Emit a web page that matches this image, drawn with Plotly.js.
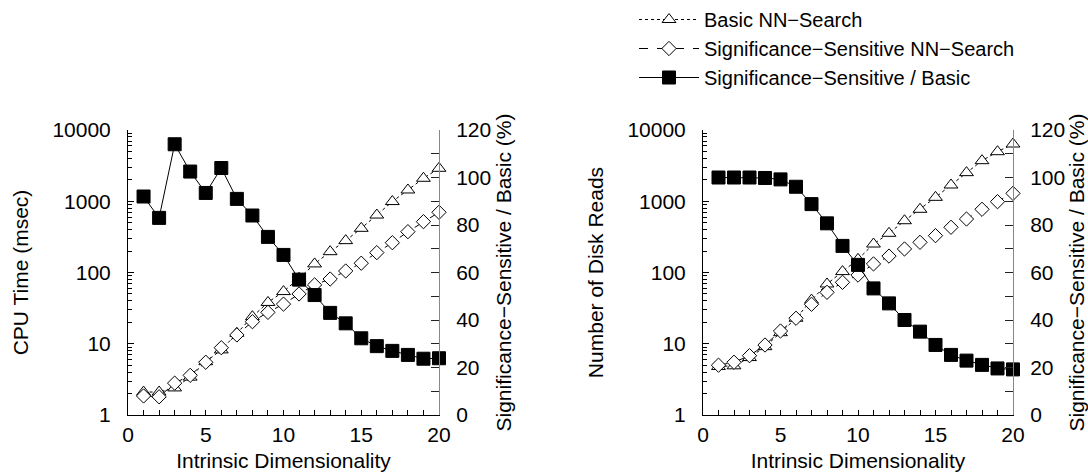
<!DOCTYPE html>
<html>
<head>
<meta charset="utf-8">
<script src="https://cdn.plot.ly/plotly-3.0.1.min.js"></script>
<style>html,body{margin:0;padding:0;background:#fff;}#chart{width:1088px;height:475px;}</style>
</head>
<body>
<div id="chart"></div>
<script>
// ---- data ----
const dims = [1,2,3,4,5,6,7,8,9,10,11,12,13,14,15,16,17,18,19,20];

// Left panel: CPU time (msec)
const cpuBasic = [2.1,2.1,2.4,3.4,5.6,8.2,14,24,38,54,83,132,196,280,417,640,990,1440,2100,2900];
const cpuSig   = [1.85,1.8,2.8,3.6,5.5,8.8,13.3,20.4,27.6,36,50,67,81,105,135,190,262,374,517,700];
const cpuRatio = [92,83,114,102.5,93.5,104,91,84,75,67.4,57,50.5,43,38.6,32.3,29,27,25.3,23.7,23.9];

// Right panel: number of disk reads
const diskBasic = [4.8,4.9,6.4,9.1,14.3,22.8,41,69,103,153,251,355,533,771,1135,1690,2520,3710,4960,6360];
const diskSig   = [5.0,5.5,6.8,9.6,15.1,22.8,35.8,52.7,72.8,92,132,170,214,265,329,431,563,771,986,1290];
const diskRatio = [100,100,100,99.8,99.2,96.1,88.8,80.7,71.2,63.2,53.3,47,40,35.1,29.5,25.3,22.9,21.1,19.6,19.2];

const names = ['Basic NN\u2212Search', 'Significance\u2212Sensitive NN\u2212Search', 'Significance\u2212Sensitive / Basic'];
const xTitle = 'Intrinsic Dimensionality';
const leftTitles = ['CPU Time (msec)', 'Number of Disk Reads'];
const ratioTitle = 'Significance\u2212Sensitive / Basic (%)';
const logTicks = [1,10,100,1000,10000];
const logTickText = ['1','10','100','1000','10000'];

// ---- styling ----
const FAM = '"Liberation Sans", Arial, Helvetica, sans-serif';
const TICKFONT = {family: FAM, size: 21, color: '#000'};
const TITLEFONT = {family: FAM, size: 21, color: '#000'};
const LEGFONT = {family: FAM, size: 20, color: '#000'};

function triTrace(x, y, xa, ya, show) {
  return {x, y, xaxis: xa, yaxis: ya, name: names[0], showlegend: show, mode: 'lines+markers', cliponaxis: false,
    line: {color: '#000', width: 1, dash: 'dot'},
    marker: {symbol: 'triangle-up', size: 12, color: '#fff', line: {color: '#000', width: 1}}};
}
function diaTrace(x, y, xa, ya, show) {
  return {x, y, xaxis: xa, yaxis: ya, name: names[1], showlegend: show, mode: 'lines+markers', cliponaxis: false,
    line: {color: '#000', width: 1, dash: 'dash'},
    marker: {symbol: 'diamond', size: 11, color: '#fff', line: {color: '#000', width: 1}}};
}
function sqTrace(x, y, xa, ya, show) {
  return {x, y, xaxis: xa, yaxis: ya, name: names[2], showlegend: show, mode: 'lines+markers', cliponaxis: false,
    line: {color: '#000', width: 1},
    marker: {symbol: 'square', size: 13, color: '#000', line: {color: '#000', width: 1}}};
}

const data = [
  triTrace(dims, cpuBasic, 'x', 'y', true),
  diaTrace(dims, cpuSig, 'x', 'y', true),
  sqTrace(dims, cpuRatio, 'x', 'y2', true),
  triTrace(dims, diskBasic, 'x2', 'y3', false),
  diaTrace(dims, diskSig, 'x2', 'y3', false),
  sqTrace(dims, diskRatio, 'x2', 'y4', false)
];

const yDom = [1 - 415/475, 1 - 130/475];

function xAxis(domain, anchor) {
  return {domain, anchor, range: [0, 20], dtick: 5, tick0: 0, showline: true, linecolor: '#000', linewidth: 1,
    ticks: 'inside', ticklen: 5, tickcolor: '#000', showgrid: false, zeroline: false, automargin: false,
    minor: {dtick: 1, ticks: 'inside', ticklen: 5, tickcolor: '#000', showgrid: false},
    tickfont: TICKFONT, ticklabelstandoff: 1,
    title: {text: xTitle, font: TITLEFONT, standoff: 8}};
}
function logAxis(anchor, title) {
  return {domain: yDom, anchor, type: 'log', range: [0, 4], tickvals: logTicks, ticktext: logTickText,
    showline: true, linecolor: '#000', linewidth: 1, ticks: 'inside', ticklen: 6, tickcolor: '#000',
    showgrid: false, zeroline: false, automargin: false,
    minor: {dtick: 'D1', ticks: 'inside', ticklen: 4, tickcolor: '#000', showgrid: false},
    tickfont: TICKFONT, ticklabelstandoff: 12,
    title: {text: title, font: TITLEFONT, standoff: 18}};
}
function pctAxis(anchor, overlay) {
  return {domain: yDom, anchor, overlaying: overlay, side: 'right', range: [0, 120], dtick: 20, tick0: 0,
    showline: true, linecolor: '#888', linewidth: 1, ticks: 'inside', ticklen: 8, tickcolor: '#222',
    showgrid: false, zeroline: false, automargin: false,
    minor: {dtick: 10, ticks: 'inside', ticklen: 8, tickcolor: '#222', showgrid: false},
    tickfont: TICKFONT, ticklabelstandoff: 12,
    title: {text: ratioTitle, font: TITLEFONT, standoff: 6}};
}

const layout = {
  width: 1088, height: 475,
  margin: {l: 0, r: 0, t: 0, b: 0},
  paper_bgcolor: '#fff', plot_bgcolor: '#fff',
  font: TICKFONT,
  showlegend: true,
  legend: {x: 634/1088, xanchor: 'left', y: 1, yanchor: 'top', font: LEGFONT, itemwidth: 60,
           bgcolor: 'rgba(0,0,0,0)', tracegroupgap: 0},
  xaxis: xAxis([128/1088, 439/1088], 'y'),
  yaxis: logAxis('x', leftTitles[0]),
  yaxis2: pctAxis('x', 'y'),
  xaxis2: xAxis([703/1088, 1013/1088], 'y3'),
  yaxis3: logAxis('x2', leftTitles[1]),
  yaxis4: pctAxis('x2', 'y3')
};

Plotly.newPlot('chart', data, layout, {displayModeBar: false, staticPlot: true});
</script>
</body>
</html>
